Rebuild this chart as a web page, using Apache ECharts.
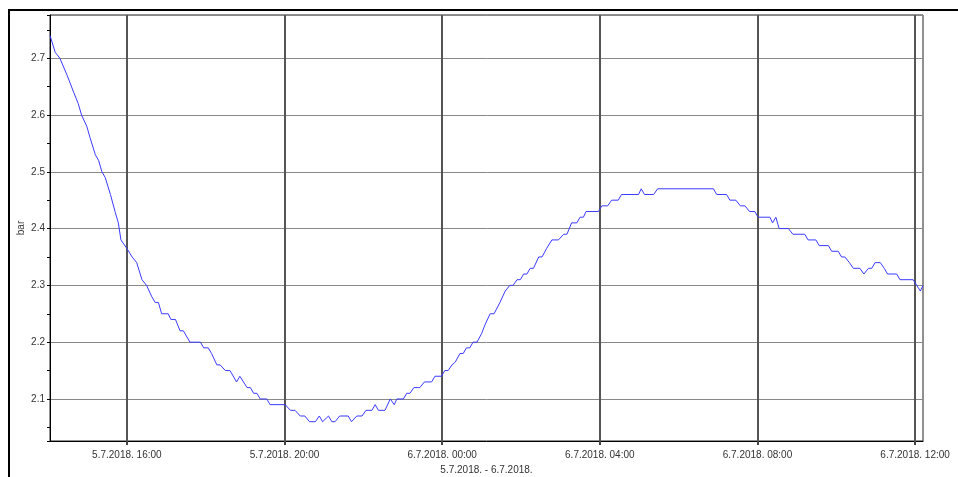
<!DOCTYPE html>
<html>
<head>
<meta charset="utf-8">
<script src="https://cdn.jsdelivr.net/npm/echarts@6/dist/echarts.min.js"></script>
<style>html,body{margin:0;padding:0;background:#fff}#c{width:958px;height:477px}</style>
</head>
<body>
<div id="c"></div>
<script>
// Sample times (5.7.2018 -> 6.7.2018), rolling over midnight
const times = ['14:03','14:11','14:18','14:29','14:39','14:46','14:51','14:59','15:04','15:12','15:17','15:22','15:27','15:35','15:42','15:47','15:51','16:00','16:08','16:15','16:23','16:30','16:38','16:43','16:48','16:53','17:03','17:07','17:14','17:21','17:26','17:36','17:52','17:57','18:04','18:09','18:17','18:22','18:30','18:37','18:47','18:52','19:03','19:08','19:13','19:18','19:23','19:33','19:38','20:01','20:09','20:16','20:24','20:31','20:38','20:47','20:53','20:58','21:07','21:12','21:17','21:24','21:37','21:42','21:50','21:58','22:04','22:13','22:18','22:23','22:33','22:41','22:47','22:51','23:01','23:06','23:11','23:17','23:26','23:33','23:44','23:49','23:59','00:04','00:09','00:15','00:20','00:27','00:32','00:37','00:42','00:47','00:53','01:00','01:05','01:13','01:19','01:28','01:36','01:43','01:48','01:54','01:59','02:04','02:09','02:14','02:19','02:27','02:32','02:39','02:47','02:57','03:05','03:10','03:17','03:25','03:30','03:35','03:39','03:58','04:03','04:12','04:18','04:28','04:33','04:59','05:03','05:08','05:22','05:28','06:53','06:58','07:13','07:18','07:27','07:34','07:41','07:48','07:56','08:01','08:19','08:23','08:28','08:33','08:47','08:54','09:12','09:17','09:29','09:34','09:48','09:53','10:03','10:08','10:13','10:20','10:26','10:36','10:42','10:49','10:54','10:59','11:07','11:13','11:18','11:32','11:37','11:57','12:08','12:12'];
// Pressure values in bar
const pressure = [2.74,2.71,2.70,2.67,2.64,2.62,2.60,2.58,2.56,2.53,2.52,2.50,2.49,2.46,2.43,2.41,2.38,2.365,2.35,2.34,2.31,2.30,2.28,2.27,2.27,2.25,2.25,2.24,2.24,2.22,2.22,2.20,2.20,2.19,2.19,2.18,2.16,2.16,2.15,2.15,2.13,2.14,2.12,2.12,2.11,2.11,2.10,2.10,2.09,2.09,2.08,2.08,2.07,2.07,2.06,2.06,2.07,2.06,2.07,2.06,2.06,2.07,2.07,2.06,2.07,2.07,2.08,2.08,2.09,2.08,2.08,2.10,2.09,2.10,2.10,2.11,2.11,2.12,2.12,2.13,2.13,2.14,2.14,2.15,2.15,2.16,2.165,2.18,2.18,2.19,2.19,2.20,2.20,2.215,2.23,2.25,2.25,2.27,2.29,2.30,2.30,2.31,2.31,2.32,2.32,2.33,2.33,2.35,2.35,2.365,2.38,2.38,2.39,2.39,2.41,2.41,2.42,2.42,2.43,2.43,2.44,2.44,2.45,2.45,2.46,2.46,2.47,2.46,2.46,2.47,2.47,2.46,2.46,2.45,2.45,2.44,2.44,2.43,2.43,2.42,2.42,2.41,2.42,2.40,2.40,2.39,2.39,2.38,2.38,2.37,2.37,2.36,2.36,2.35,2.35,2.34,2.33,2.33,2.32,2.33,2.33,2.34,2.34,2.33,2.32,2.32,2.31,2.31,2.29,2.30];
// X tick positions (hours since 5.7.2018 00:00) and their labels
const xTickHours = [16, 20, 24, 28, 32, 36];
const xTickLabels = ['5.7.2018. 16:00','5.7.2018. 20:00','6.7.2018. 00:00','6.7.2018. 04:00','6.7.2018. 08:00','6.7.2018. 12:00'];
const xRange = ['14:03', '12:12'];
const yRange = [2.026, 2.776];
const xTitle = '5.7.2018. - 6.7.2018.';
const yTitle = 'bar';

function toHours(list) {
  let day = 0, prev = -1; const out = [];
  for (const t of list) {
    const [h, m] = t.split(':').map(Number);
    let v = h + m / 60;
    if (v < prev) day++;
    prev = v;
    out.push(v + 24 * day);
  }
  return out;
}
const hrs = toHours(times);
const data = hrs.map((h, i) => [h, pressure[i]]);
const xr = toHours(xRange);

const chart = echarts.init(document.getElementById('c'));
const font = 'Liberation Sans, Arial, sans-serif';
chart.setOption({
  animation: false,
  backgroundColor: '#fff',
  graphic: [{
    type: 'rect', shape: { x: 9, y: 10, width: 1100, height: 600 },
    style: { fill: 'none', stroke: '#000', lineWidth: 2 }, silent: true, z: 100
  }],
  grid: { left: 50, right: 35, top: 15, bottom: 36, outerBoundsMode: 'none', containLabel: false,
    show: true, borderColor: '#222', borderWidth: 1, backgroundColor: 'transparent' },
  xAxis: {
    type: 'value', min: xr[0], max: xr[1],
    name: xTitle, nameLocation: 'middle', nameGap: 24,
    nameTextStyle: { color: '#333', fontSize: 10, fontFamily: font },
    axisLine: { show: true, lineStyle: { color: '#000', width: 1 } },
    axisTick: { show: true, length: 4, customValues: xTickHours, lineStyle: { color: '#444', width: 2 } },
    axisLabel: {
      customValues: xTickHours, color: '#333', fontSize: 10, fontFamily: font, margin: 9,
      formatter: v => { const i = xTickHours.findIndex(x => Math.abs(x - v) < 1e-6); return i >= 0 ? xTickLabels[i] : ''; }
    },
    splitLine: { show: true, lineStyle: { color: '#555', width: 2 } }
  },
  yAxis: {
    type: 'value', min: yRange[0], max: yRange[1], splitNumber: 7,
    name: yTitle, nameLocation: 'middle', nameGap: 24, nameRotate: 90, nameMoveOverlap: false,
    nameTextStyle: { color: '#333', fontSize: 10, fontFamily: font },
    axisLine: { show: true, lineStyle: { color: '#000', width: 1 } },
    axisTick: { show: true, length: 3, lineStyle: { color: '#000' } },
    minorTick: { show: true, splitNumber: 2, length: 3, lineStyle: { color: '#000' } },
    axisLabel: { color: '#333', fontSize: 10, fontFamily: font, margin: 5, showMinLabel: false, showMaxLabel: false,
      formatter: v => Number(v).toFixed(1) },
    splitLine: { show: true, lineStyle: { color: '#888', width: 1 } }
  },
  series: [{
    type: 'line', data: data, showSymbol: false, symbol: 'none',
    lineStyle: { color: '#3b3bff', width: 1 }, z: 5
  }]
});
</script>
</body>
</html>
